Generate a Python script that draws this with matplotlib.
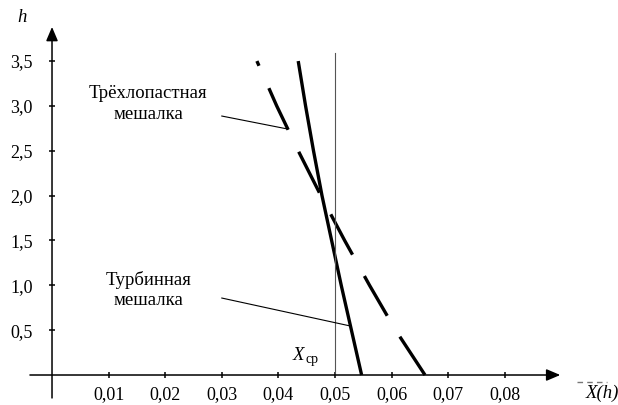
import matplotlib
matplotlib.use("Agg")
import matplotlib.pyplot as plt
import numpy as np

plt.rcParams["font.family"] = ["Liberation Serif", "DejaVu Serif"]
plt.rcParams["lines.scale_dashes"] = False

# heights and concentrations
h_three = [0.0, 0.5, 1.0, 1.5, 2.0, 2.5, 3.0, 3.5]
x_three = [0.0659, 0.0607, 0.0561, 0.0517, 0.0475, 0.0435, 0.0397, 0.0362]
h_turb = [0.0, 0.5, 1.0, 1.5, 2.0, 2.5, 3.0, 3.5]
x_turb = [0.0547, 0.0529, 0.0511, 0.0494, 0.0477, 0.0462, 0.0448, 0.0435]
x_mean = 0.05
h_mean_top = 3.59

x_ticks = [0.01, 0.02, 0.03, 0.04, 0.05, 0.06, 0.07, 0.08]
x_labels = ["0,01", "0,02", "0,03", "0,04", "0,05", "0,06", "0,07", "0,08"]
y_ticks = [0.5, 1.0, 1.5, 2.0, 2.5, 3.0, 3.5]
y_labels = ["0,5", "1,0", "1,5", "2,0", "2,5", "3,0", "3,5"]

label_three = "Трёхлопастная\nмешалка"
label_turb = "Турбинная\nмешалка"

fig = plt.figure(figsize=(6.18, 4.05), dpi=100)
ax = fig.add_axes([0, 0, 1, 1])
ax.set_xlim(-0.00919, 0.1000)
ax.set_ylim(-0.3344, 4.1806)

# axes through origin, arrows drawn separately
for side in ("top", "right", "left", "bottom"):
    ax.spines[side].set_visible(False)
ax.spines["left"].set_position(("data", 0))
ax.spines["bottom"].set_position(("data", 0))

arrow = dict(arrowstyle="-|>,head_length=0.4,head_width=0.17", mutation_scale=21,
             color="black", lw=1.1, shrinkA=0, shrinkB=0)
ax.annotate("", xy=(0, 3.88), xytext=(0, -0.256), arrowprops=arrow)
ax.annotate("", xy=(0.0898, 0), xytext=(-0.0039, 0), arrowprops=arrow)

ax.set_xticks(x_ticks)
ax.set_xticklabels(x_labels)
ax.set_yticks(y_ticks)
ax.set_yticklabels(y_labels)
ax.tick_params(axis="both", direction="inout", length=5, width=1.1, labelsize=13)
ax.tick_params(axis="x", pad=5.5)
ax.tick_params(axis="y", pad=11.5)

# curves
ax.plot(x_three, h_three, color="black", lw=2.4, dashes=(33, 17.6),
        dash_capstyle="butt", solid_capstyle="butt", solid_joinstyle="round")
ax.plot(x_turb, h_turb, color="black", lw=2.4, solid_capstyle="butt",
        solid_joinstyle="round")
ax.plot([x_mean, x_mean], [0, h_mean_top], color="#555555", lw=0.8)

# leader lines to the curves
h_end3 = 2.742
x_end3 = np.interp(h_end3, h_three, x_three)
h_endt = 0.546
x_endt = np.interp(h_endt, h_turb, x_turb)
ax.plot([0.0300, x_end3], [2.887, h_end3], color="black", lw=0.8)
ax.plot([0.0300, x_endt], [0.858, h_endt], color="black", lw=0.8)

ax.text(0.0170, 3.02, label_three, ha="center", va="center", fontsize=13.5,
        multialignment="center", linespacing=1.3)
ax.text(0.0170, 0.95, label_turb, ha="center", va="center", fontsize=13.5,
        multialignment="center", linespacing=1.2)

ax.text(0.0435, 0.223, "X", style="italic", ha="center", va="center", fontsize=13.5)
ax.text(0.0459, 0.17, "ср", ha="center", va="center", fontsize=10)
ax.text(-0.0053, 3.99, "h", style="italic", ha="center", va="center", fontsize=13.5)
ax.text(0.0972, -0.20, "X(h)", style="italic", ha="center", va="center", fontsize=13.5)

# faint remnant next to the axis label
ax.plot([0.0928, 0.0981], [-0.078, -0.078], color="#777777", lw=1.0, dashes=(4, 3))

plt.savefig("out.png", dpi=100)
plt.close()
